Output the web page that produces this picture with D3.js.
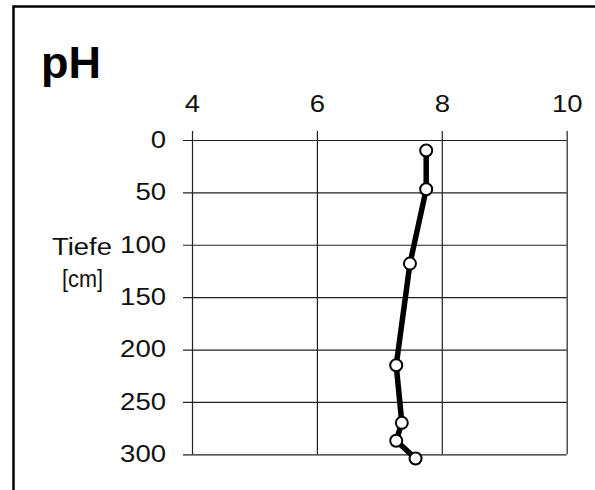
<!DOCTYPE html>
<html><head><meta charset="utf-8">
<script src="https://cdn.jsdelivr.net/npm/d3@7"></script>
<style>body{margin:0;background:#fff}svg{display:block}text{font-family:"Liberation Sans",Arial,sans-serif}</style>
</head><body><svg id="c" width="595" height="490"></svg>
<script>
const depth = [10, 47, 118, 215, 270, 287, 304];
const pH = [7.75, 7.75, 7.49, 7.27, 7.36, 7.27, 7.58];
const xTicks = [4, 6, 8, 10];
const yTicks = [0, 50, 100, 150, 200, 250, 300];
const title = "pH";
const yLabel = ["Tiefe", "[cm]"];

const svg = d3.select("#c");
svg.append("rect").attr("x",13.5).attr("y",6.5).attr("width",600).attr("height",500)
  .attr("fill","none").attr("stroke","#000").attr("stroke-width",2.5);

const x = d3.scaleLinear().domain([4,10]).range([192,566.7]);
const y = d3.scaleLinear().domain([0,300]).range([140,454.3]);
const ext = 9;
const digitW = 15.3;

const gx = svg.append("g").attr("transform",`translate(0,${y(0)})`)
  .call(d3.axisTop(x).tickValues(xTicks).tickFormat(d3.format("d")).tickSizeInner(ext).tickSizeOuter(0).tickPadding(19));
gx.select(".domain").remove();
gx.selectAll(".tick line").attr("y1", y(300)-y(0)).attr("y2",-ext).attr("stroke","#222").attr("stroke-width",1.2);
gx.selectAll(".tick text").attr("font-size",23).attr("fill","#111")
  .attr("textLength",d=>String(d).length*digitW).attr("lengthAdjust","spacingAndGlyphs");

const gy = svg.append("g").attr("transform",`translate(${x(4)},0)`)
  .call(d3.axisLeft(y).tickValues(yTicks).tickFormat(d3.format("d")).tickSizeInner(ext).tickSizeOuter(0).tickPadding(17));
gy.select(".domain").remove();
gy.selectAll(".tick line").attr("x1", x(10)-x(4)).attr("x2",-ext).attr("stroke","#222").attr("stroke-width",1.2);
gy.selectAll(".tick text").attr("font-size",23).attr("fill","#111").attr("dy","0.32em")
  .attr("textLength",d=>String(d).length*digitW).attr("lengthAdjust","spacingAndGlyphs");

svg.append("text").attr("x",41).attr("y",78).attr("font-size",45).attr("font-weight","bold").text(title);
svg.append("text").attr("x",52).attr("y",255).attr("font-size",23).attr("fill","#111")
  .attr("textLength",60).attr("lengthAdjust","spacingAndGlyphs").text(yLabel[0]);
svg.append("text").attr("x",62).attr("y",287).attr("font-size",23).attr("fill","#111")
  .attr("textLength",41).attr("lengthAdjust","spacingAndGlyphs").text(yLabel[1]);

const pts = depth.map((d,i)=>({d, v:pH[i]}));
svg.append("path").datum(pts).attr("fill","none").attr("stroke","#000").attr("stroke-width",5.5)
  .attr("stroke-linejoin","round")
  .attr("d", d3.line().x(p=>x(p.v)).y(p=>y(p.d)));
svg.selectAll("circle.pt").data(pts).join("circle").attr("class","pt")
  .attr("cx",p=>x(p.v)).attr("cy",p=>y(p.d)).attr("r",6)
  .attr("fill","#fff").attr("stroke","#000").attr("stroke-width",2);
</script></body></html>
